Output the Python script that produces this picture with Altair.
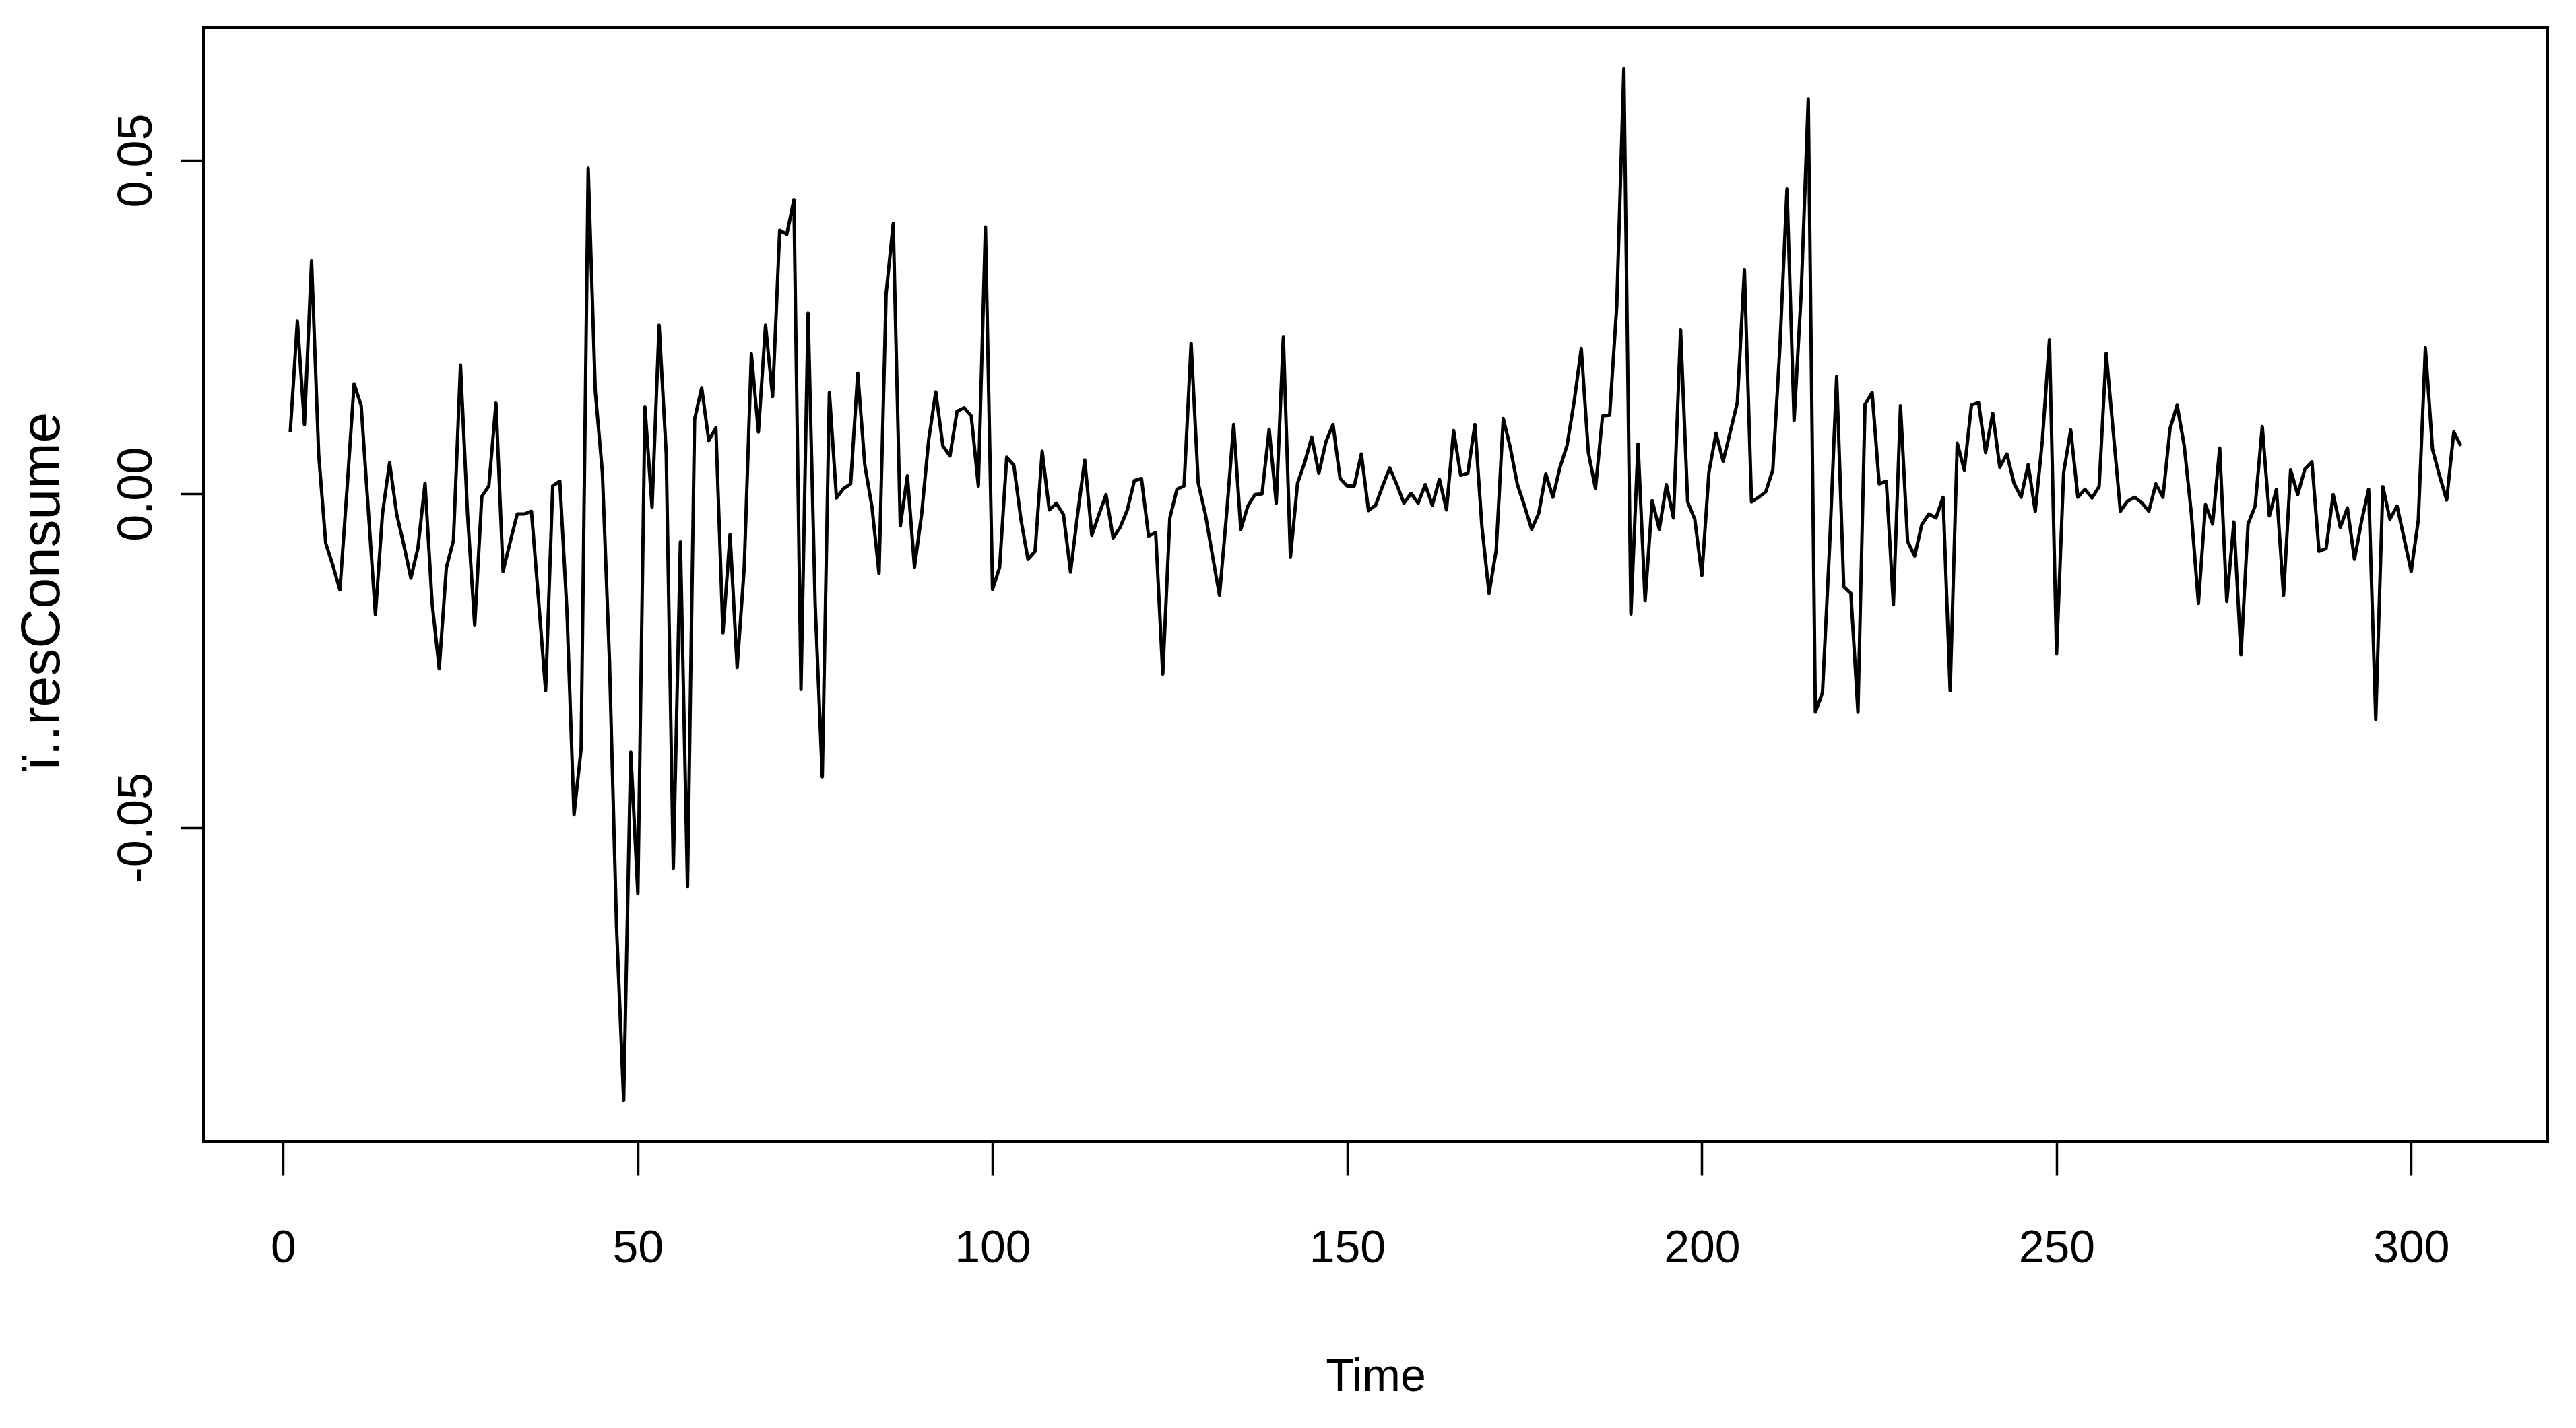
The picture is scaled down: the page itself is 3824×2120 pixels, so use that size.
import altair as alt
import pandas as pd

# residual series, Time = 1..307
res_consume = [
    0.0093, 0.0259, 0.0104, 0.0349, 0.0060, -0.0074, -0.0107, -0.0144, 0.0007, 0.0165,
    0.0132, -0.0024, -0.0181, -0.0030, 0.0047, -0.0030, -0.0076, -0.0126, -0.0081, 0.0016,
    -0.0164, -0.0262, -0.0111, -0.0070, 0.0193, -0.0032, -0.0197, -0.0004, 0.0012, 0.0136,
    -0.0116, -0.0072, -0.0030, -0.0030, -0.0026, -0.0159, -0.0295, 0.0012, 0.0019, -0.0175,
    -0.0481, -0.0382, 0.0488, 0.0154, 0.0032, -0.0250, -0.0650, -0.0909, -0.0387, -0.0599,
    0.0130, -0.0020, 0.0253, 0.0060, -0.0561, -0.0072, -0.0589, 0.0112, 0.0159, 0.0080,
    0.0099, -0.0208, -0.0061, -0.0260, -0.0110, 0.0210, 0.0093, 0.0253, 0.0146, 0.0395,
    0.0389, 0.0441, -0.0293, 0.0271, -0.0166, -0.0424, 0.0152, -0.0006, 0.0008, 0.0015,
    0.0181, 0.0043, -0.0019, -0.0119, 0.0300, 0.0405, -0.0048, 0.0027, -0.0110, -0.0031,
    0.0081, 0.0153, 0.0072, 0.0057, 0.0124, 0.0129, 0.0117, 0.0012, 0.0400, -0.0143,
    -0.0110, 0.0055, 0.0043, -0.0038, -0.0098, -0.0086, 0.0064, -0.0024, -0.0014, -0.0031,
    -0.0117, -0.0030, 0.0051, -0.0062, -0.0031, -0.0001, -0.0066, -0.0050, -0.0024, 0.0020,
    0.0023, -0.0063, -0.0058, -0.0270, -0.0036, 0.0007, 0.0012, 0.0226, 0.0016, -0.0030,
    -0.0092, -0.0152, -0.0030, 0.0104, -0.0053, -0.0018, -0.0001, 0.0000, 0.0097, -0.0014,
    0.0235, -0.0095, 0.0016, 0.0047, 0.0085, 0.0031, 0.0078, 0.0104, 0.0023, 0.0012,
    0.0012, 0.0060, -0.0025, -0.0017, 0.0012, 0.0039, 0.0014, -0.0014, 0.0001, -0.0014,
    0.0014, -0.0017, 0.0022, -0.0024, 0.0095, 0.0028, 0.0031, 0.0104, -0.0050, -0.0149,
    -0.0085, 0.0113, 0.0069, 0.0014, -0.0018, -0.0053, -0.0029, 0.0030, -0.0005, 0.0040,
    0.0073, 0.0139, 0.0218, 0.0062, 0.0008, 0.0117, 0.0118, 0.0281, 0.0637, -0.0180,
    0.0075, -0.0160, -0.0010, -0.0053, 0.0014, -0.0036, 0.0246, -0.0012, -0.0038, -0.0122,
    0.0033, 0.0091, 0.0049, 0.0093, 0.0137, 0.0336, -0.0012, -0.0005, 0.0003, 0.0036,
    0.0220, 0.0457, 0.0110, 0.0300, 0.0592, -0.0327, -0.0298, -0.0080, 0.0176, -0.0139,
    -0.0149, -0.0327, 0.0134, 0.0152, 0.0015, 0.0019, -0.0166, 0.0132, -0.0071, -0.0093,
    -0.0046, -0.0030, -0.0036, -0.0005, -0.0295, 0.0076, 0.0036, 0.0133, 0.0137, 0.0062,
    0.0121, 0.0040, 0.0060, 0.0016, -0.0005, 0.0044, -0.0026, 0.0080, 0.0231, -0.0240,
    0.0032, 0.0096, -0.0005, 0.0007, -0.0006, 0.0011, 0.0211, 0.0092, -0.0026, -0.0011,
    -0.0005, -0.0013, -0.0026, 0.0015, -0.0005, 0.0098, 0.0133, 0.0072, -0.0029, -0.0164,
    -0.0016, -0.0045, 0.0069, -0.0161, -0.0042, -0.0241, -0.0045, -0.0018, 0.0101, -0.0033,
    0.0007, -0.0152, 0.0036, -0.0001, 0.0037, 0.0048, -0.0086, -0.0082, -0.0001, -0.0050,
    -0.0021, -0.0098, -0.0041, 0.0007, -0.0338, 0.0011, -0.0038, -0.0018, -0.0067, -0.0116,
    -0.0039, 0.0219, 0.0067, 0.0027, -0.0009, 0.0093, 0.0072,
]
time_index = list(range(1, len(res_consume) + 1))

x_ticks = [0, 50, 100, 150, 200, 250, 300]
y_ticks = [-0.05, 0.0, 0.05]

df = pd.DataFrame({"Time": time_index, "resConsume": res_consume})

# R-style 4% axis extension
xmin, xmax = min(time_index), max(time_index)
ymin, ymax = min(res_consume), max(res_consume)
xpad = 0.04 * (xmax - xmin)
ypad = 0.04 * (ymax - ymin)

PLOT_W, PLOT_H = 3480, 1654
FONT = "Liberation Sans, Arial, sans-serif"

y_label_expr = (
    "datum.value < 0 ? '-' + format(-datum.value, '.2f') : format(datum.value, '.2f')"
)

chart = (
    alt.Chart(df)
    .mark_line(color="black", strokeWidth=5, strokeJoin="round", clip=True)
    .encode(
        x=alt.X(
            "Time:Q",
            scale=alt.Scale(domain=[xmin - xpad, xmax + xpad], nice=False, zero=False),
            axis=alt.Axis(
                values=x_ticks,
                format="d",
                domain=False,
                grid=False,
                ticks=True,
                tickSize=50,
                tickWidth=3.5,
                tickColor="black",
                labelFont=FONT,
                labelFontSize=68,
                labelColor="black",
                labelBaseline="alphabetic",
                labelPadding=128,
                labelAlign="center",
                labelLimit=0,
                title="Time",
                titleFont=FONT,
                titleFontSize=68,
                titleFontWeight="normal",
                titleColor="black",
                titleBaseline="alphabetic",
                titleAlign="center",
                titleX=PLOT_W / 2,
                titleY=369,
            ),
        ),
        y=alt.Y(
            "resConsume:Q",
            scale=alt.Scale(domain=[ymin - ypad, ymax + ypad], nice=False, zero=False),
            axis=alt.Axis(
                values=y_ticks,
                labelExpr=y_label_expr,
                domain=False,
                grid=False,
                ticks=True,
                tickSize=34,
                tickWidth=3.5,
                tickColor="black",
                labelFont=FONT,
                labelFontSize=72,
                labelColor="black",
                labelAngle=-90,
                labelAlign="center",
                labelBaseline="alphabetic",
                labelPadding=44,
                labelLimit=0,
                title="ï..resConsume",
                titleFont=FONT,
                titleFontSize=82,
                titleFontWeight="normal",
                titleColor="black",
                titleAngle=-90,
                titleAlign="center",
                titleBaseline="alphabetic",
                titleX=-215,
                titleY=837,
                titleLimit=0,
            ),
        ),
    )
    .properties(
        width=PLOT_W,
        height=PLOT_H,
        background="white",
        autosize=alt.AutoSizeParams(type="none"),
        padding={"left": 294, "top": 33, "right": 30, "bottom": 410},
    )
    .configure_view(stroke="black", strokeWidth=4, fill="white")
)

chart.save("out.html", embed_options={"renderer": "svg", "actions": False})
